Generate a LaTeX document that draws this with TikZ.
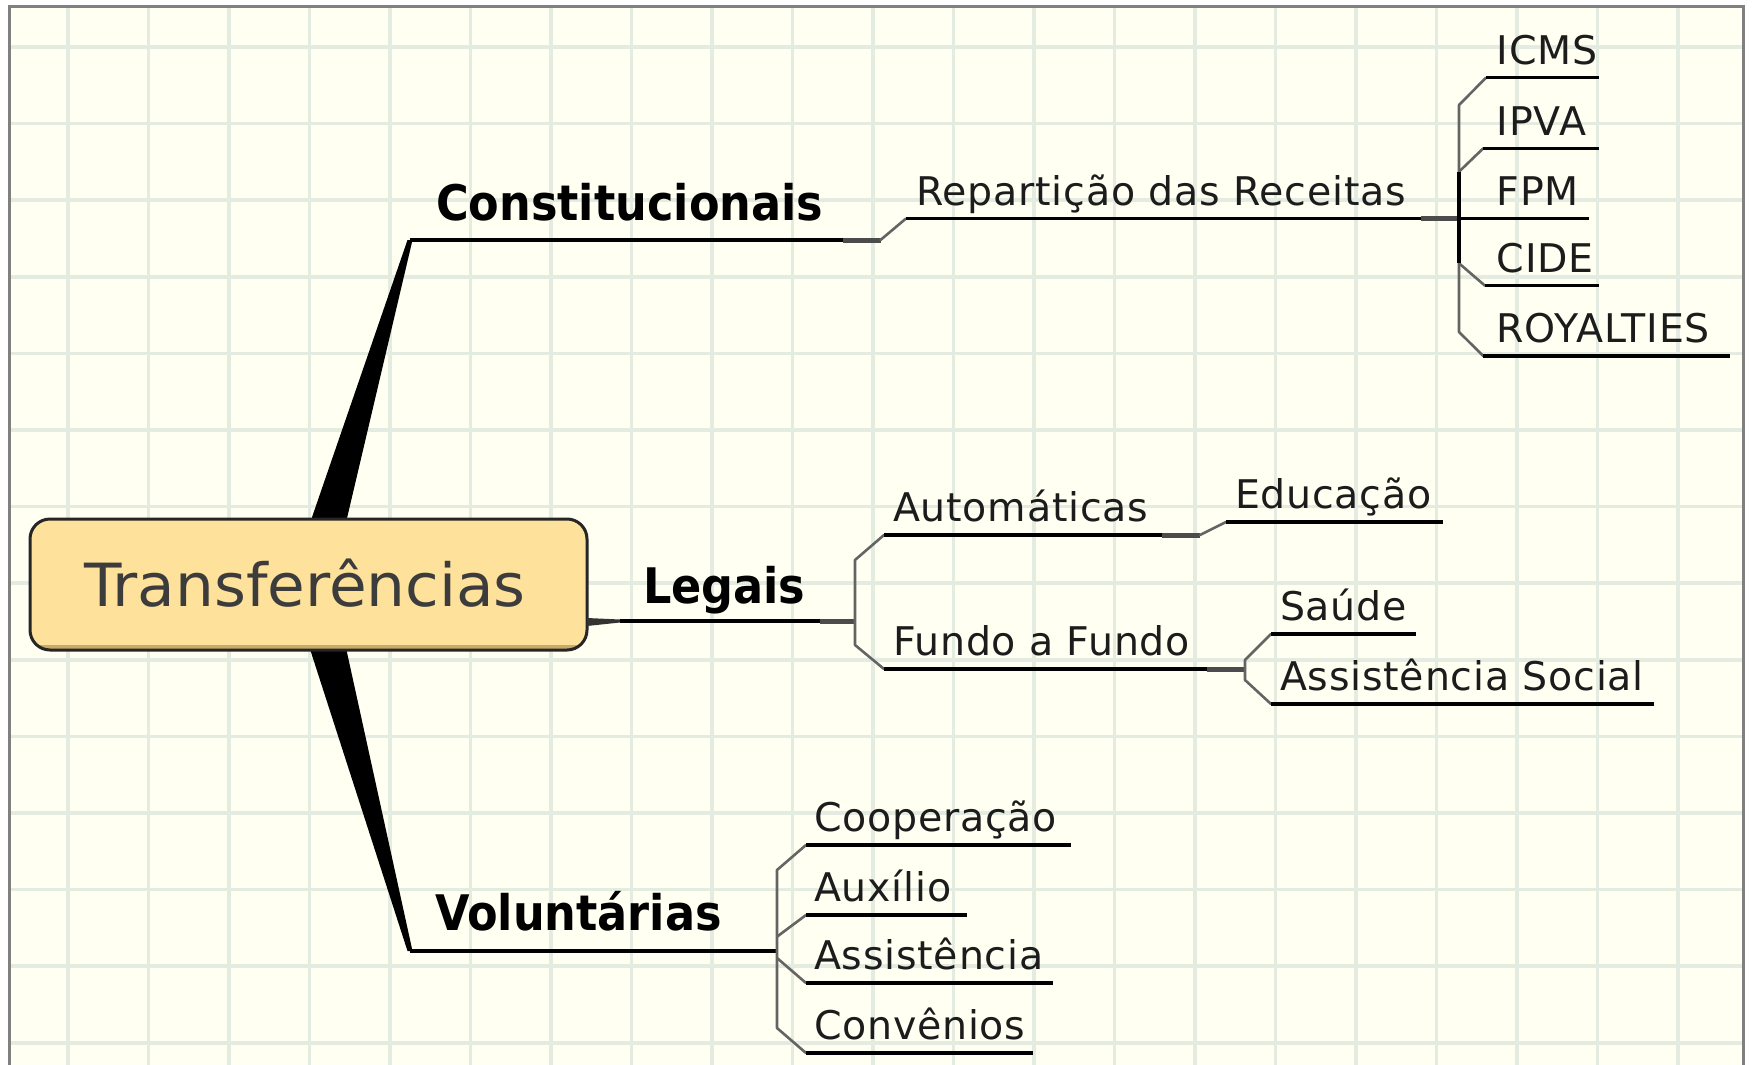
\documentclass[tikz,border=0pt]{standalone}
\usepackage{fontspec}
\setmainfont{DejaVu Sans}
\newfontfamily\boldlbl{DejaVu Sans}[FakeStretch=0.91]
\newfontfamily\reglbl{DejaVu Sans}[LetterSpace=2.0]
\newfontfamily\rootfont{DejaVu Sans}[FakeStretch=1.03]
\definecolor{bgc}{RGB}{255,255,242}
\definecolor{gridc}{RGB}{228,235,225}
\definecolor{framec}{RGB}{128,128,128}
\definecolor{boxfill}{RGB}{254,226,155}
\definecolor{boxshade}{RGB}{200,170,105}
\definecolor{txtc}{RGB}{28,28,28}
\definecolor{ctxt}{RGB}{60,60,60}
\definecolor{brk}{RGB}{100,100,100}
\begin{document}
\begin{tikzpicture}[x=1pt,y=-1pt,
  lbl/.style={anchor=base west, inner sep=0pt, outer sep=0pt, text=txtc, font=\reglbl\fontsize{39.5}{40}\selectfont},
  mainlbl/.style={anchor=base west, inner sep=0pt, outer sep=0pt, text=black, font=\boldlbl\bfseries\fontsize{49}{50}\selectfont},
  rootlbl/.style={anchor=base west, inner sep=0pt, outer sep=0pt, text=ctxt, font=\rootfont\fontsize{59.5}{60}\selectfont},
  uline/.style={draw=black, line width=3.5pt},
  brline/.style={draw=brk, line width=2.6pt, line join=round, line cap=round},
  stub/.style={draw=black!70, line width=5pt},
  gridl/.style={draw=gridc, line width=3.5pt},
  wedge/.style={fill=black}]

\useasboundingbox (0,0) rectangle (1753,1065);
\fill[white] (0,0) rectangle (1753,1065);
\fill[bgc] (9,7) rectangle (1743,1065);
\begin{scope}
  \clip (9,7) rectangle (1743,1065);
  \foreach \k in {0,...,20} \draw[gridl] ({68+80.5*\k},7) -- ({68+80.5*\k},1065);
  \foreach \k in {0,...,13} \draw[gridl] (9,{47+76.6*\k}) -- (1743,{47+76.6*\k});
\end{scope}
\draw[framec, line width=3pt] (9,1065) -- (9,7) -- (1743,7) -- (1743,1065);

% ---------- coordinates ----------
\coordinate (wbL) at (289,584);
\coordinate (wbR) at (331.5,584);
\coordinate (c1tipL) at (407.5,240);
\coordinate (c1tip) at (410,240);
\coordinate (c1tipR) at (412.5,240);
\coordinate (c1end) at (842.5,240);
\coordinate (c1stub) at (880.5,240);
\coordinate (repL) at (906,218.5);
\coordinate (repStub) at (1420.5,218.5);
\coordinate (repBr) at (1459,218.5);
\coordinate (fpmR) at (1589,218.5);
\coordinate (rbTop) at (1459,105);
\coordinate (rbBot) at (1459,332);
\coordinate (rbA) at (1459,171.7);
\coordinate (rbB) at (1459,263.3);
\coordinate (icmsL) at (1486,77.7);  \coordinate (icmsR) at (1599,77.7);
\coordinate (ipvaL) at (1483.3,148.3); \coordinate (ipvaR) at (1599,148.3);
\coordinate (cideL) at (1485,285.7); \coordinate (cideR) at (1599,285.7);
\coordinate (royL) at (1483.3,356);  \coordinate (royR) at (1730,356);

\coordinate (legS) at (587,621);
\coordinate (legL) at (620,621);
\coordinate (legStub) at (820,621);
\coordinate (legBr) at (855,621);
\coordinate (lbTop) at (855,560);
\coordinate (lbBot) at (855,645);
\coordinate (autoL) at (884,535); \coordinate (autoStub) at (1162,535); \coordinate (autoE) at (1200,535);
\coordinate (eduL) at (1226,522); \coordinate (eduR) at (1443,522);
\coordinate (fundL) at (884,669); \coordinate (fundStub) at (1207,669); \coordinate (fundE) at (1245,669);
\coordinate (fbTop) at (1245,660); \coordinate (fbBot) at (1245,680);
\coordinate (saudeL) at (1271,634); \coordinate (saudeR) at (1416,634);
\coordinate (asL) at (1271,704); \coordinate (asR) at (1654,704);

\coordinate (v1tipL) at (407.5,951);
\coordinate (v1tip) at (410,951);
\coordinate (v1tipR) at (412.5,951);
\coordinate (vEnd) at (777,951);
\coordinate (vbTop) at (777,870); \coordinate (vbBot) at (777,1028);
\coordinate (vbA) at (777,936.7); \coordinate (vbB) at (777,958);
\coordinate (coopL) at (806,845); \coordinate (coopR) at (1071,845);
\coordinate (auxL) at (806,915); \coordinate (auxR) at (967,915);
\coordinate (assL) at (806,983); \coordinate (assR) at (1053,983);
\coordinate (convL) at (806,1053); \coordinate (convR) at (1033,1053);

% ---------- thick tapered branches ----------
\fill[wedge] (c1tipL) -- (c1tipR) -- (wbR) -- (wbL) -- cycle;
\fill[wedge] (v1tipL) -- (v1tipR) -- ([xshift=0.5pt]wbR) -- (wbL) -- cycle;

% ---------- root ----------
\fill[boxfill, rounded corners=20pt] (30,519) rectangle (587,650);
\begin{scope}
  \clip[rounded corners=20pt] (30,519) rectangle (587,650);
  \fill[boxshade] (30,644.5) rectangle (587,650);
\end{scope}
\node[draw=black!85, line width=3pt, rounded corners=20pt, minimum width=557pt, minimum height=131pt, inner sep=0pt] (root) at (308.5,584.5) {};
\node[rootlbl] (roottxt) at (84,606) {Transferências};

% ---------- Constitucionais ----------
\draw[uline] (c1tip) -- (c1end);
\draw[stub] (c1end) -- (c1stub);
\draw[brline] (c1stub) -- (repL);
\draw[uline] (repL) -- (fpmR);
\draw[stub] (repStub) -- (repBr);
\draw[brline] (icmsL) -- (rbTop) -- (rbBot) -- (royL);
\draw[brline] (rbA) -- (ipvaL);
\draw[brline] (rbB) -- (cideL);
\draw[black, line width=3.5pt] (rbA) -- (rbB);
\draw[uline] (icmsL) -- (icmsR);
\draw[uline] (ipvaL) -- (ipvaR);
\draw[uline] (cideL) -- (cideR);
\draw[uline] (royL) -- (royR);

\node[mainlbl] (const) at (436,220) {Constitucionais};
\node[lbl] (rep) at (916,205) {Repartição das Receitas};
\node[lbl] (icms) at (1496.7,64.5) {ICMS};
\node[lbl] (ipva) at (1496.7,135) {IPVA};
\node[lbl] (fpm) at (1496.7,205) {FPM};
\node[lbl] (cide) at (1496.7,272.2) {CIDE};
\node[lbl] (roy) at (1496.7,342.5) {ROYALTIES};

% ---------- Legais ----------
\fill[black!80] ([yshift=-5pt]legS) -- ([yshift=-1.5pt]legL) -- ([yshift=1.5pt]legL) -- ([yshift=3pt]legS) -- cycle;
\draw[uline] (legL) -- (legBr);
\draw[stub] (legStub) -- (legBr);
\draw[brline] (autoL) -- (lbTop) -- (lbBot) -- (fundL);
\draw[uline] (autoL) -- (autoE);
\draw[stub] (autoStub) -- (autoE);
\draw[brline] (autoE) -- (eduL);
\draw[uline] (eduL) -- (eduR);
\draw[uline] (fundL) -- (fundE);
\draw[stub] (fundStub) -- (fundE);
\draw[brline] (saudeL) -- (fbTop) -- (fbBot) -- (asL);
\draw[uline] (saudeL) -- (saudeR);
\draw[uline] (asL) -- (asR);

\node[mainlbl] (legais) at (643,603) {Legais};
\node[lbl] (auto) at (893,521.5) {Automáticas};
\node[lbl] (edu) at (1235,508.5) {Educação};
\node[lbl] (fundo) at (893,655.5) {Fundo a Fundo};
\node[lbl] (saude) at (1280,620.5) {Saúde};
\node[lbl] (asoc) at (1280,690.5) {Assistência Social};

% ---------- Voluntarias ----------
\draw[uline] (v1tip) -- (vEnd);
\draw[brline] (coopL) -- (vbTop) -- (vbBot) -- (convL);
\draw[brline] (vbA) -- (auxL);
\draw[brline] (vbB) -- (assL);
\draw[uline] (coopL) -- (coopR);
\draw[uline] (auxL) -- (auxR);
\draw[uline] (assL) -- (assR);
\draw[uline] (convL) -- (convR);

\node[mainlbl] (volunt) at (435,930) {Voluntárias};
\node[lbl] (coop) at (814,831.5) {Cooperação};
\node[lbl] (aux) at (814,901.5) {Auxílio};
\node[lbl] (assist) at (814,969.5) {Assistência};
\node[lbl] (conv) at (814,1039.5) {Convênios};
\end{tikzpicture}
\end{document}
